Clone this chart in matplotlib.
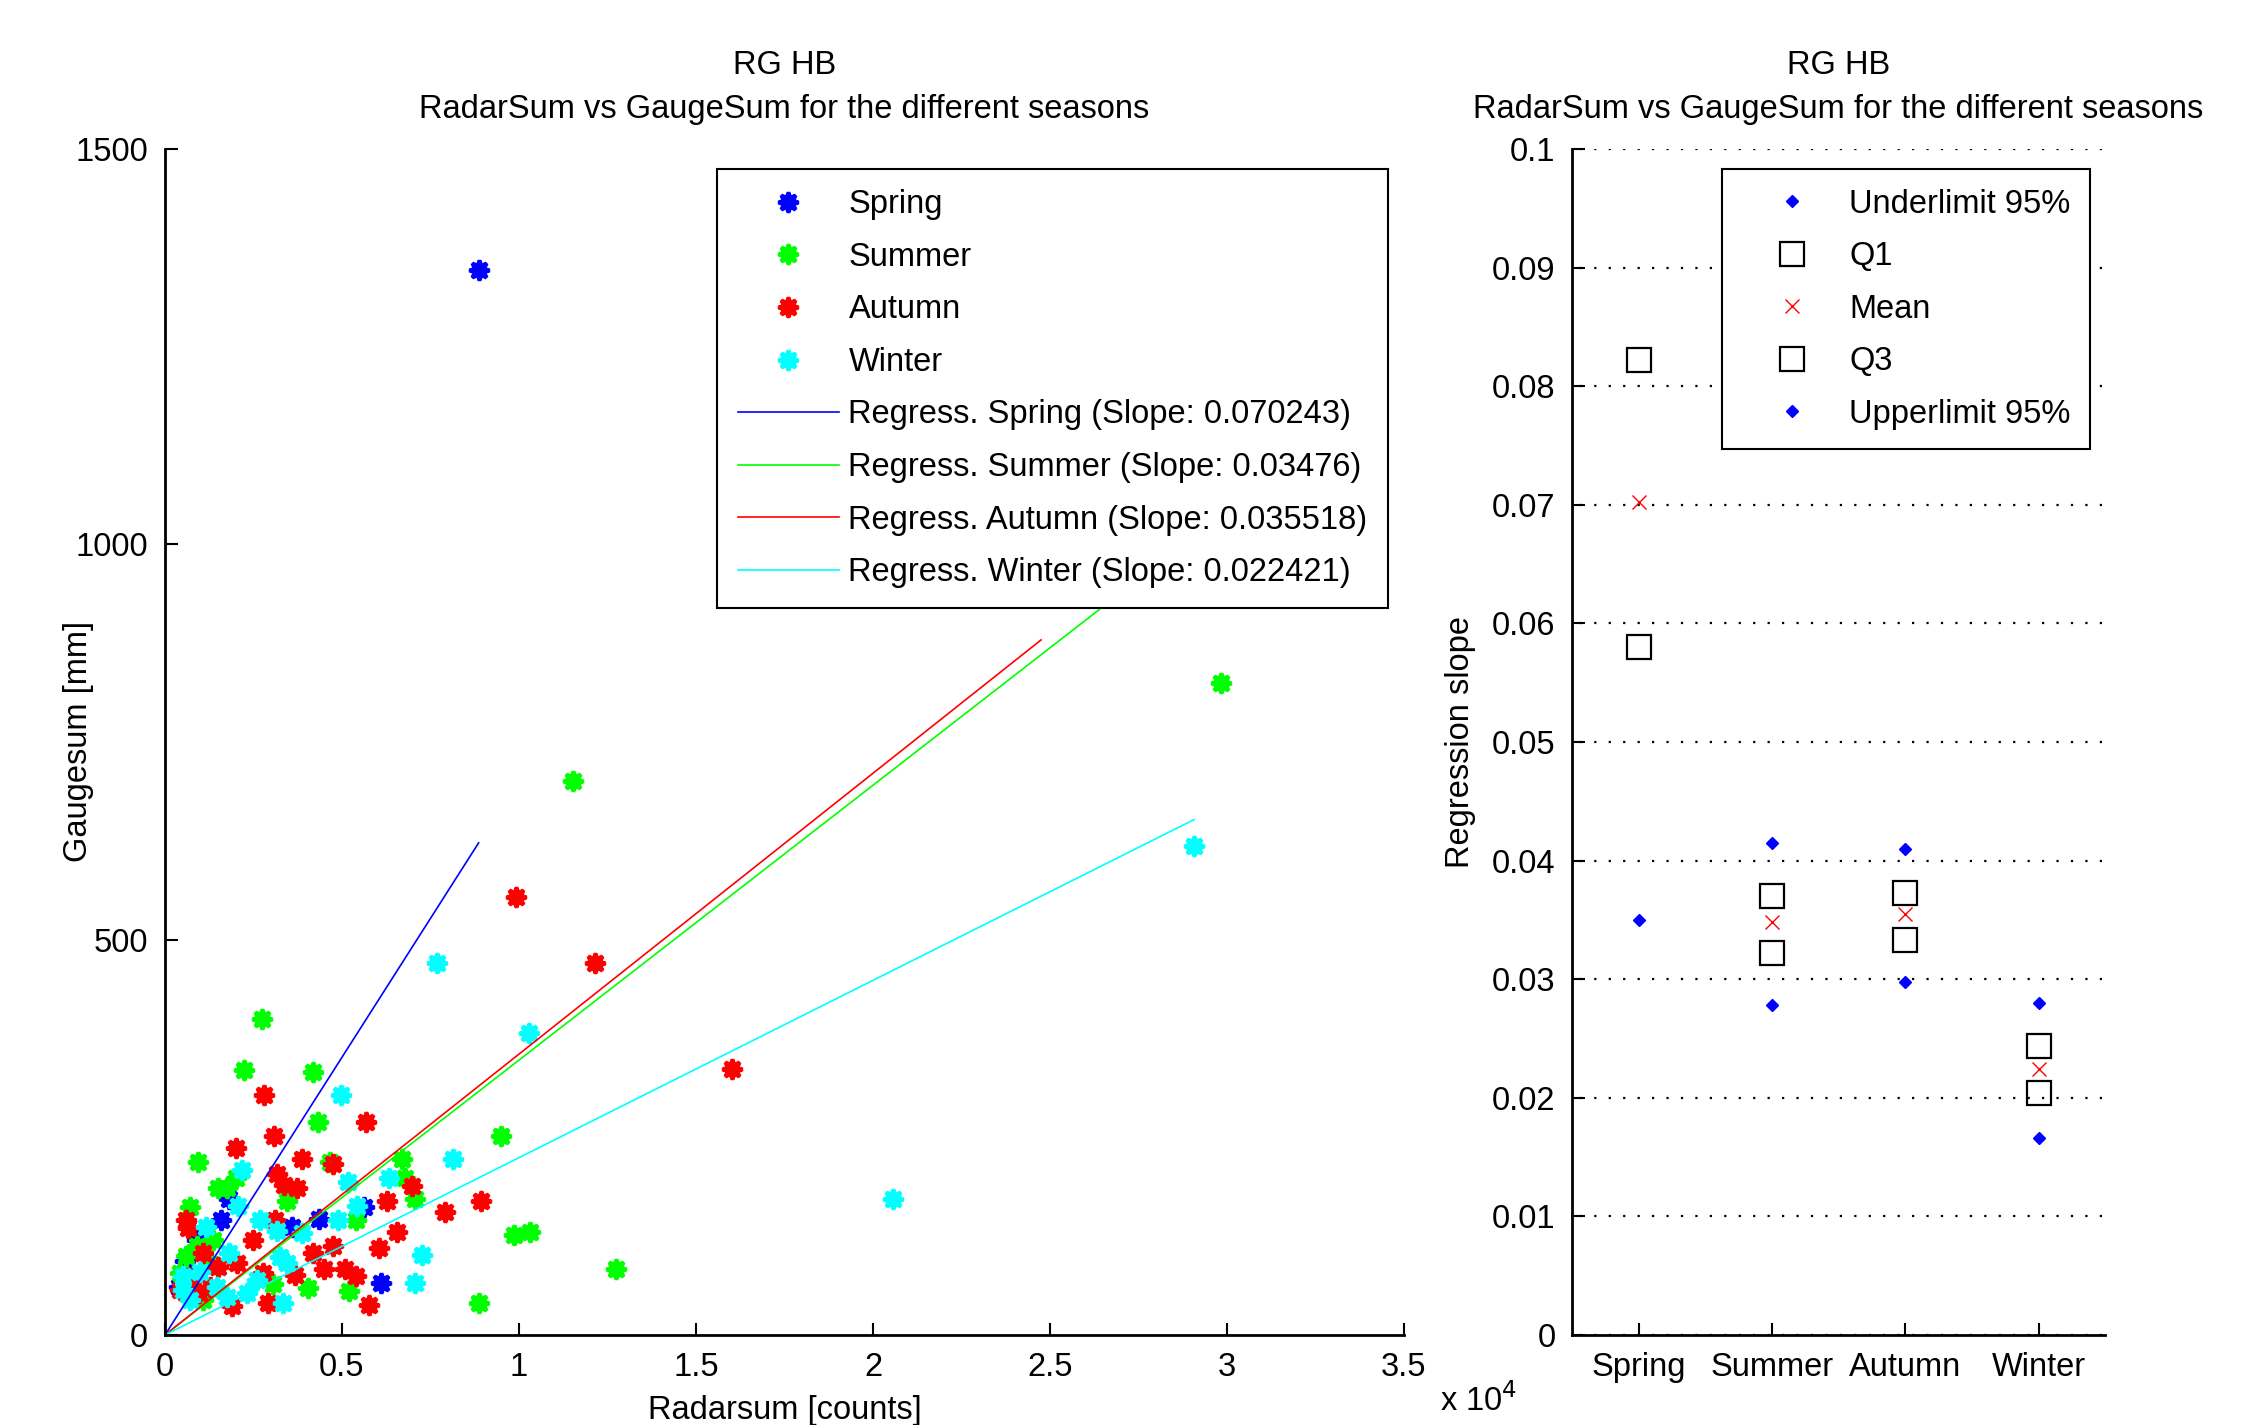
import matplotlib
matplotlib.use("Agg")
import matplotlib.pyplot as plt
import numpy as np

plt.rcParams['font.family'] = ['Liberation Sans', 'DejaVu Sans']

# ---------------- data ----------------
spring_x = [8860, 1800, 1580, 4340, 3580, 560, 6110, 5610, 400, 900]
spring_y = [1347, 172, 145, 147, 137, 93, 66, 162, 60, 120]

summer_x = [2730, 2230, 4180, 4320, 9500, 940, 4670, 6700, 6770, 2010, 1500, 1760,
            3440, 7060, 700, 5400, 9860, 10300, 1360, 890, 3060, 4040, 5190, 8870,
            12740, 11540, 29840, 420, 1080, 600, 1300]
summer_y = [399, 335, 332, 269, 251, 219, 219, 222, 198, 198, 186, 186,
            169, 172, 162, 145, 126, 130, 120, 112, 65, 59, 56, 41,
            83, 701, 824, 78, 44, 100, 90]

autumn_x = [2810, 5690, 3090, 2010, 3880, 4740, 3160, 3370, 3730, 6980, 6270, 8920,
            7910, 3110, 660, 6560, 2500, 4740, 6040, 1080, 4170, 2030, 1490, 4480,
            5090, 5400, 3680, 2780, 1270, 970, 2920, 1880, 5750, 9920, 12150, 16020,
            420, 600, 800]
autumn_y = [304, 269, 251, 237, 222, 216, 204, 190, 186, 188, 169, 169,
            155, 145, 135, 130, 120, 112, 110, 103, 103, 91, 86, 84,
            84, 74, 76, 78, 61, 53, 41, 37, 38, 554, 470, 336,
            57, 145, 75]

winter_x = [4970, 8130, 2170, 6340, 5160, 2070, 5420, 2690, 4900, 1160, 3160, 3870,
            1810, 7270, 3250, 3440, 510, 7050, 2310, 3330, 7680, 10280, 20570, 29070,
            500, 700, 1460, 1740, 1000, 2600]
winter_y = [304, 222, 209, 198, 193, 163, 163, 145, 145, 137, 131, 129,
            103, 101, 99, 91, 74, 66, 53, 41, 470, 382, 172, 619,
            57, 44, 61, 48, 80, 70]

seasons = ['Spring', 'Summer', 'Autumn', 'Winter']
slopes = [0.070243, 0.03476, 0.035518, 0.022421]
slope_labels = ['0.070243', '0.03476', '0.035518', '0.022421']
reg_xend = [8860, 29840, 24750, 29070]

# regression slope statistics per season
under95 = [0.0350, 0.0278, 0.0298, 0.0166]
q1 = [0.0580, 0.0322, 0.0333, 0.0204]
mean_slope = [0.0702, 0.0348, 0.0355, 0.0224]
q3 = [0.0822, 0.0370, 0.0373, 0.0244]
upper95 = [0.1055, 0.0415, 0.0410, 0.0280]

colors = [(0, 0, 1), (0, 1, 0), (1, 0, 0), (0, 1, 1)]

# ---------------- figure ----------------
fig = plt.figure(figsize=(22.51, 14.25), dpi=100)
ax1 = fig.add_axes([0.0733, 0.0632, 0.5504, 0.8323])
ax2 = fig.add_axes([0.6984, 0.0632, 0.2368, 0.8323])

FS = 23.5
title = 'RG HB\nRadarSum vs GaugeSum for the different seasons'
xs = [spring_x, summer_x, autumn_x, winter_x]
ys = [spring_y, summer_y, autumn_y, winter_y]
star = (8, 1, 0)
for s, x, y, c in zip(seasons, xs, ys, colors):
    ax1.plot(x, y, linestyle='none', marker=star, markersize=14.5, color=c,
             markeredgecolor=c, markeredgewidth=2.8, label=s)
for s, sl, lab, xe, c in zip(seasons, slopes, slope_labels, reg_xend, colors):
    xx = np.array([0, xe])
    ax1.plot(xx, sl * xx, color=c, linewidth=1.2,
             label=f'Regress. {s} (Slope: {lab})')

ax1.set_xlim(0, 35000)
ax1.set_ylim(0, 1500)
ax1.set_xticks(np.arange(0, 35001, 5000))
ax1.set_xticklabels(['0', '0.5', '1', '1.5', '2', '2.5', '3', '3.5'])
ax1.set_yticks([0, 500, 1000, 1500])
ax1.text(1.029, -0.064, r'x 10$^4$', transform=ax1.transAxes, fontsize=FS,
         ha='left', va='baseline')
ax1.set_xlabel('Radarsum [counts]', fontsize=FS, labelpad=9)
ax1.set_ylabel('Gaugesum [mm]', fontsize=FS)
ax1.yaxis.set_label_coords(-0.057, 0.5)
ax1.set_title(title, fontsize=FS, pad=22, linespacing=1.55)
leg1 = ax1.legend(loc='upper right', bbox_to_anchor=(0.987, 0.983), fontsize=FS,
                  frameon=True, fancybox=False, edgecolor='black', framealpha=1,
                  handlelength=3.1, labelspacing=0.66, borderpad=0.62,
                  handletextpad=0.3, borderaxespad=0)
leg1.get_frame().set_linewidth(1.5)
leg1.set_zorder(10)

# right axes
pos = np.arange(1, 5)
ax2.plot(pos, under95, linestyle='none', marker='D', markersize=6.5,
         color=(0, 0, 1), label='Underlimit 95%')
ax2.plot(pos, q1, linestyle='none', marker='s', markersize=17,
         markerfacecolor='none', markeredgecolor='black', markeredgewidth=1.6,
         label='Q1')
ax2.plot(pos, mean_slope, linestyle='none', marker='x', markersize=10,
         color=(1, 0, 0), markeredgewidth=1, label='Mean')
ax2.plot(pos, q3, linestyle='none', marker='s', markersize=17,
         markerfacecolor='none', markeredgecolor='black', markeredgewidth=1.6,
         label='Q3')
ax2.plot(pos, upper95, linestyle='none', marker='D', markersize=6.5,
         color=(0, 0, 1), label='Upperlimit 95%')
ax2.set_xlim(0.5, 4.5)
ax2.set_ylim(0, 0.1)
ax2.set_xticks(pos)
ax2.set_xticklabels(seasons)
ax2.set_yticks(np.arange(0, 0.1001, 0.01))
ax2.set_yticklabels(['0', '0.01', '0.02', '0.03', '0.04', '0.05', '0.06',
                     '0.07', '0.08', '0.09', '0.1'])
ax2.yaxis.grid(True, linestyle=(3, (1, 5.5)), color='black', linewidth=1.6)
ax2.set_axisbelow(True)
ax2.set_ylabel('Regression slope', fontsize=FS)
ax2.yaxis.set_label_coords(-0.18, 0.5)
ax2.set_title(title, fontsize=FS, pad=22, linespacing=1.55)
leg2 = ax2.legend(loc='upper right', bbox_to_anchor=(0.972, 0.983), fontsize=FS,
                  frameon=True, fancybox=False, edgecolor='black', framealpha=1,
                  handlelength=3.1, labelspacing=0.66, borderpad=0.6,
                  handletextpad=0.2, borderaxespad=0)
leg2.get_frame().set_linewidth(1.5)

for ax in (ax1, ax2):
    for side in ('top', 'right'):
        ax.spines[side].set_visible(False)
    for side in ('left', 'bottom'):
        ax.spines[side].set_linewidth(2)
    ax.tick_params(direction='in', length=9, width=1.5, labelsize=FS, pad=12)

fig.savefig('out.png', dpi=100)
